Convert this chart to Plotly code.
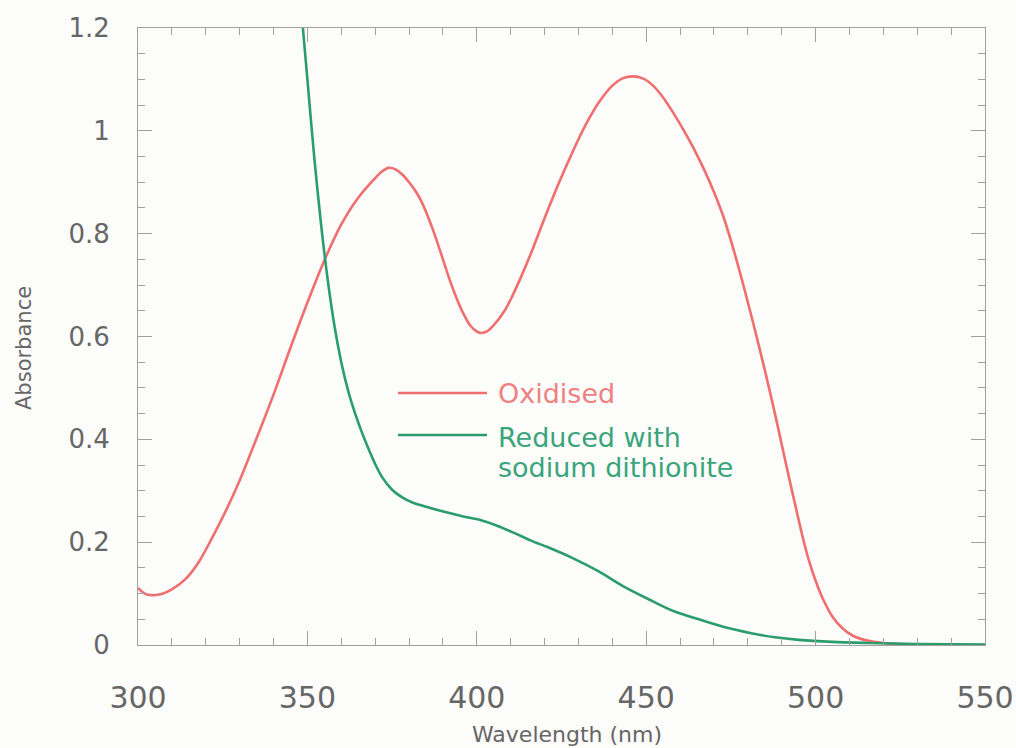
import plotly.graph_objects as go

# Oxidised spectrum (wavelength nm, absorbance)
ox_wl = [300, 302, 304, 307, 310, 314, 318, 322, 326, 330, 335, 340, 345, 350, 355, 360, 365,
         370, 372, 374, 376, 378, 380, 382, 384, 386, 388, 390, 392, 394, 396, 398, 400, 401,
         403, 405, 408, 410, 413, 416, 420, 424, 428, 432, 436, 440, 443, 446, 449, 452, 455,
         458, 461, 464, 467, 470, 473, 476, 479, 482, 485, 488, 490, 492, 494, 496, 498, 500,
         502, 505, 508, 511, 515, 520, 530, 540, 550]
ox_abs = [0.111, 0.100, 0.097, 0.099, 0.108, 0.128, 0.162, 0.210, 0.262, 0.320, 0.402, 0.487,
          0.578, 0.666, 0.748, 0.818, 0.870, 0.908, 0.921, 0.928, 0.925, 0.915, 0.900, 0.882,
          0.858, 0.826, 0.790, 0.750, 0.710, 0.675, 0.645, 0.622, 0.610, 0.607, 0.610, 0.622,
          0.648, 0.672, 0.715, 0.762, 0.830, 0.895, 0.955, 1.010, 1.055, 1.088, 1.102, 1.106,
          1.102, 1.088, 1.065, 1.035, 1.002, 0.966, 0.926, 0.881, 0.829, 0.764, 0.692, 0.615,
          0.535, 0.450, 0.390, 0.330, 0.272, 0.215, 0.165, 0.125, 0.092, 0.055, 0.032, 0.018,
          0.009, 0.004, 0.001, 0.0, 0.0]

# Reduced with sodium dithionite
red_wl = [348, 350, 352, 354, 356, 358, 360, 362, 364, 366, 368, 370, 372, 375, 378, 381, 386,
          391, 396, 401, 406, 411, 416, 421, 428, 436, 443, 451, 458, 466, 473, 481, 488, 495,
          505, 515, 530, 550]
red_abs = [1.25, 1.10, 0.95, 0.82, 0.71, 0.62, 0.55, 0.495, 0.452, 0.415, 0.382, 0.352, 0.327,
           0.302, 0.287, 0.277, 0.267, 0.258, 0.25, 0.243, 0.232, 0.218, 0.203, 0.19, 0.17,
           0.143, 0.115, 0.088, 0.066, 0.049, 0.035, 0.023, 0.015, 0.010, 0.006, 0.004, 0.002,
           0.001]

x_ticks = [300, 350, 400, 450, 500, 550]
y_ticks = [0, 0.2, 0.4, 0.6, 0.8, 1, 1.2]

RED = "#EF6E6E"
GREEN = "#2A9D6C"
RED_TXT = "#EE8282"
GREEN_TXT = "#3AA47A"
AX = "#A0A0A0"
TXT = "#666666"
FONT = "DejaVu Sans"
BG = "#FCFCFB"

fig = go.Figure()
fig.add_trace(go.Scatter(x=ox_wl, y=ox_abs, mode="lines", name="Oxidised",
                         line=dict(color=RED, width=2.6, shape="spline", smoothing=0.8)))
fig.add_trace(go.Scatter(x=red_wl, y=red_abs, mode="lines", name="Reduced with sodium dithionite",
                         line=dict(color=GREEN, width=2.6, shape="spline", smoothing=0.8)))

axis_common = dict(showline=True, linecolor=AX, linewidth=1, mirror="ticks", ticks="inside",
                   tickcolor=AX, tickwidth=1, ticklen=14, showgrid=False, zeroline=False,
                   automargin=False)

fig.update_xaxes(range=[300, 550], tickvals=x_ticks, ticklabelstandoff=26,
                 tickfont=dict(family=FONT, size=30, color=TXT),
                 minor=dict(dtick=10, ticks="inside", ticklen=7, tickcolor=AX, showgrid=False),
                 **axis_common)
fig.update_yaxes(range=[0, 1.2], tickvals=y_ticks, ticklabelstandoff=22,
                 tickfont=dict(family=FONT, size=26, color=TXT),
                 minor=dict(dtick=0.05, ticks="inside", ticklen=7, tickcolor=AX, showgrid=False),
                 **axis_common)

W, H = 1016, 748
L, R, T, B = 138, 985, 28, 645

def px(xp):
    return (xp - L) / (R - L)

def py(yp):
    return (B - yp) / (B - T)

annotations = [
    dict(text="Wavelength (nm)", x=px(567), y=py(734), xref="paper", yref="paper",
         showarrow=False, xanchor="center", yanchor="middle",
         font=dict(family=FONT, size=22, color=TXT)),
    dict(text="Absorbance", x=px(24), y=py(348), xref="paper", yref="paper",
         showarrow=False, xanchor="center", yanchor="middle", textangle=-90,
         font=dict(family=FONT, size=21, color=TXT)),
    dict(text="Oxidised", x=px(496), y=py(393), xref="paper", yref="paper",
         showarrow=False, xanchor="left", yanchor="middle",
         font=dict(family=FONT, size=27, color=RED_TXT)),
    dict(text="Reduced with", x=px(496), y=py(437), xref="paper", yref="paper",
         showarrow=False, xanchor="left", yanchor="middle",
         font=dict(family=FONT, size=27, color=GREEN_TXT)),
    dict(text="sodium dithionite", x=px(496), y=py(467), xref="paper", yref="paper",
         showarrow=False, xanchor="left", yanchor="middle",
         font=dict(family=FONT, size=27, color=GREEN_TXT)),
]

shapes = [
    dict(type="line", xref="paper", yref="paper", x0=px(398), x1=px(487), y0=py(393), y1=py(393),
         line=dict(color=RED, width=2.5)),
    dict(type="line", xref="paper", yref="paper", x0=px(398), x1=px(487), y0=py(435), y1=py(435),
         line=dict(color=GREEN, width=2.5)),
]

fig.update_layout(width=W, height=H, margin=dict(l=L, r=W - R, t=T, b=H - B),
                  paper_bgcolor=BG, plot_bgcolor=BG, showlegend=False,
                  annotations=annotations, shapes=shapes)

fig.write_html("out.html")
